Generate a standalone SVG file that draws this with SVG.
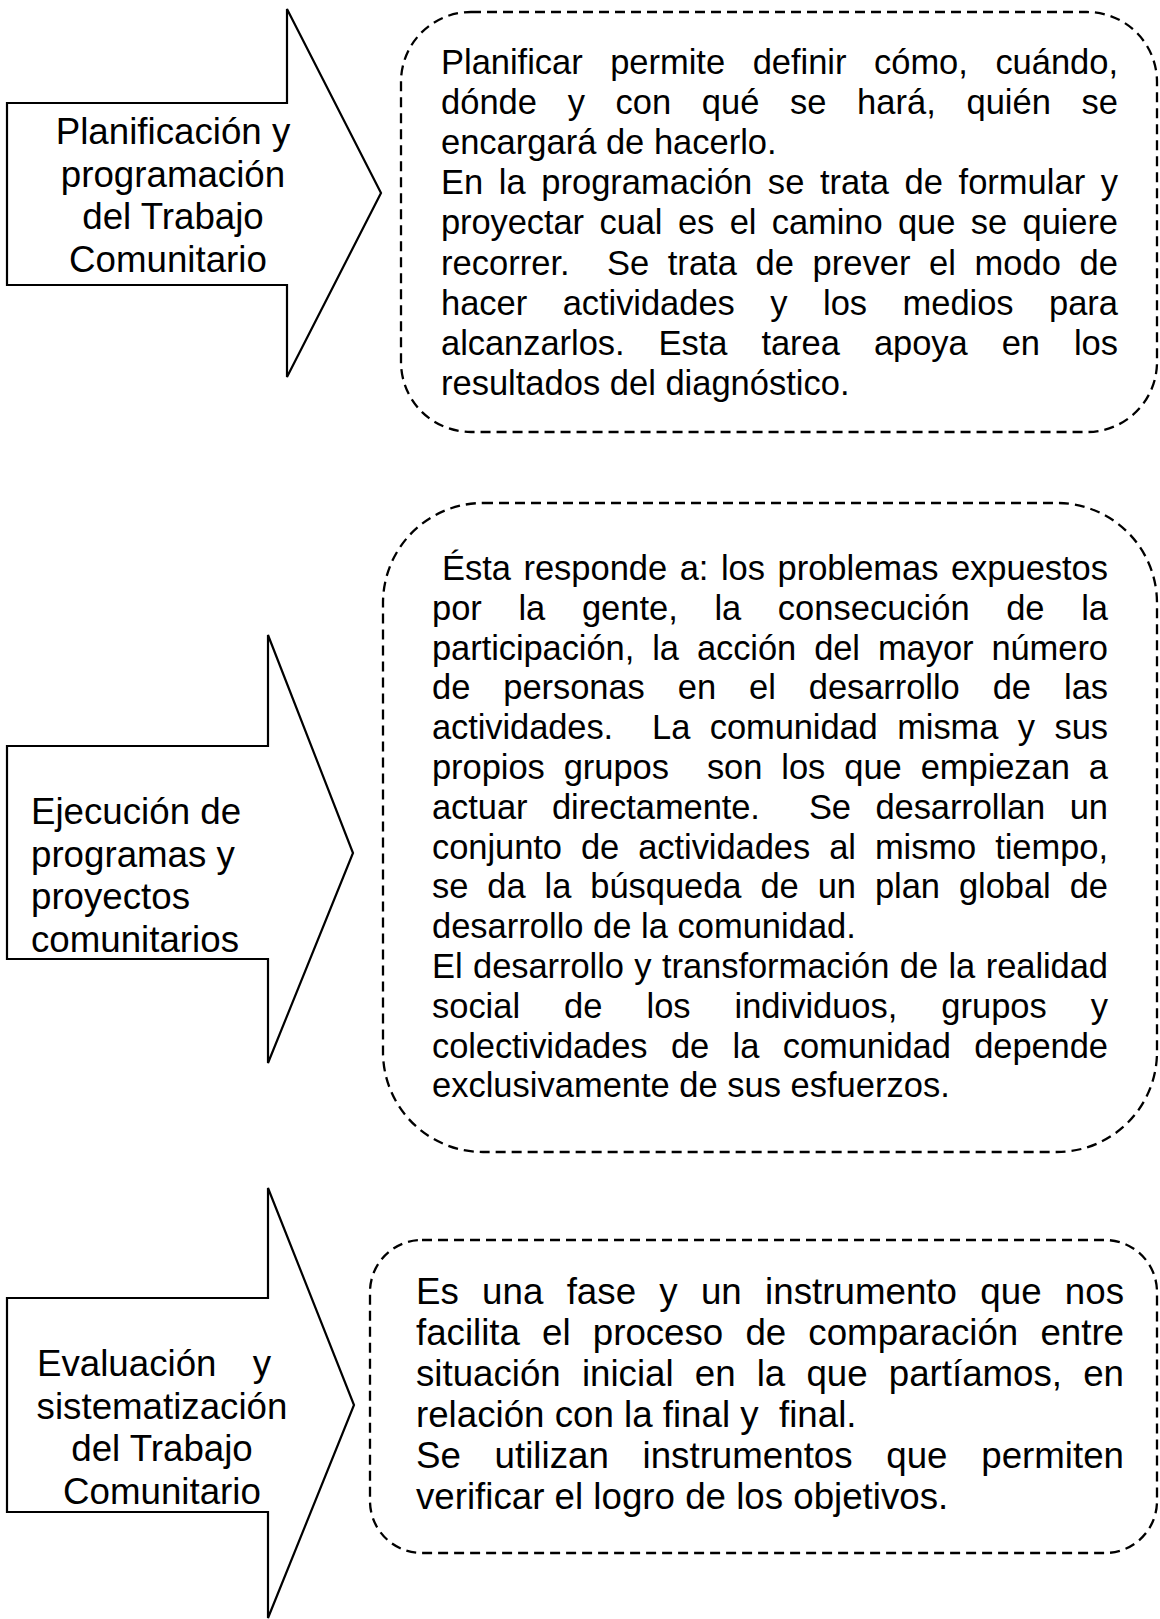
<svg xmlns="http://www.w3.org/2000/svg" width="1160" height="1619" viewBox="0 0 1160 1619">
<style>
.arrow{fill:#fff;stroke:#000;stroke-width:2.2;stroke-linejoin:miter}
.box{fill:#fff;stroke:#000;stroke-width:2.3;stroke-dasharray:10 6}
.lbl{font-family:"Liberation Sans",Arial,sans-serif;font-size:36.7px;fill:#000}
.mid{text-anchor:middle}
.body{font-family:"Liberation Sans",Arial,sans-serif;font-size:34.5px;fill:#000}
.big{font-size:36.7px}
</style>
<rect x="0" y="0" width="1160" height="1619" fill="#fff"/>
<g id="connectors"/>

<g id="arrow1">
<polygon class="arrow" points="7,103 287,103 287,9 381,193 287,377 287,285 7,285"/>
<text class="lbl mid" x="173" y="144">Planificación y</text>
<text class="lbl mid" x="173" y="186.5">programación</text>
<text class="lbl mid" x="173" y="229">del Trabajo</text>
<text class="lbl mid" x="168" y="271.5">Comunitario</text>
</g>

<g id="box1">
<rect class="box" x="401" y="12" width="756" height="420" rx="70" ry="70"/>
<text class="body" x="441" y="74" textLength="677" lengthAdjust="spacing" style="word-spacing:18px">Planificar permite definir cómo, cuándo,</text>
<text class="body" x="441" y="114" textLength="677" lengthAdjust="spacing" style="word-spacing:21px">dónde y con qué se hará, quién se</text>
<text class="body" x="441" y="154">encargará de hacerlo.</text>
<text class="body" x="441" y="194" textLength="677" lengthAdjust="spacing" style="word-spacing:6px">En la programación se trata de formular y</text>
<text class="body" x="441" y="234" textLength="677" lengthAdjust="spacing" style="word-spacing:6px">proyectar cual es el camino que se quiere</text>
<text class="body" x="441" y="275" textLength="677" lengthAdjust="spacing" style="word-spacing:9px" xml:space="preserve">recorrer.  Se trata de prever el modo de</text>
<text class="body" x="441" y="315" textLength="677" lengthAdjust="spacing" style="word-spacing:26px">hacer actividades y los medios para</text>
<text class="body" x="441" y="355" textLength="677" lengthAdjust="spacing" style="word-spacing:24.5px">alcanzarlos. Esta tarea apoya en los</text>
<text class="body" x="441" y="395">resultados del diagnóstico.</text>
</g>

<g id="arrow2">
<polygon class="arrow" points="7,746 268,746 268,635 353,853 268,1063 268,959 7,959"/>
<text class="lbl" x="31" y="824">Ejecución de</text>
<text class="lbl" x="31" y="866.5">programas y</text>
<text class="lbl" x="31" y="909">proyectos</text>
<text class="lbl" x="31" y="951.5">comunitarios</text>
</g>

<g id="box2">
<rect class="box" x="383" y="503" width="774" height="649" rx="100" ry="100"/>
<text class="body" x="442" y="580" textLength="666" lengthAdjust="spacing" style="word-spacing:3px">Ésta responde a: los problemas expuestos</text>
<text class="body" x="432" y="619.8" textLength="676" lengthAdjust="spacing" style="word-spacing:27px">por la gente, la consecución de la</text>
<text class="body" x="432" y="659.6" textLength="676" lengthAdjust="spacing" style="word-spacing:8.5px">participación, la acción del mayor número</text>
<text class="body" x="432" y="699.4" textLength="676" lengthAdjust="spacing" style="word-spacing:23.5px">de personas en el desarrollo de las</text>
<text class="body" x="432" y="739.2" textLength="676" lengthAdjust="spacing" style="word-spacing:10px" xml:space="preserve">actividades.  La comunidad misma y sus</text>
<text class="body" x="432" y="779" textLength="676" lengthAdjust="spacing" style="word-spacing:9.5px" xml:space="preserve">propios grupos  son los que empiezan a</text>
<text class="body" x="432" y="818.8" textLength="676" lengthAdjust="spacing" style="word-spacing:15px" xml:space="preserve">actuar directamente.  Se desarrollan un</text>
<text class="body" x="432" y="858.6" textLength="676" lengthAdjust="spacing" style="word-spacing:9.5px">conjunto de actividades al mismo tiempo,</text>
<text class="body" x="432" y="898.4" textLength="676" lengthAdjust="spacing" style="word-spacing:9.5px">se da la búsqueda de un plan global de</text>
<text class="body" x="432" y="938.2">desarrollo de la comunidad.</text>
<text class="body" x="432" y="978" textLength="676" lengthAdjust="spacing" style="word-spacing:1px">El desarrollo y transformación de la realidad</text>
<text class="body" x="432" y="1017.8" textLength="676" lengthAdjust="spacing" style="word-spacing:34.5px">social de los individuos, grupos y</text>
<text class="body" x="432" y="1057.6" textLength="676" lengthAdjust="spacing" style="word-spacing:14px">colectividades de la comunidad depende</text>
<text class="body" x="432" y="1097.4">exclusivamente de sus esfuerzos.</text>
</g>

<g id="arrow3">
<polygon class="arrow" points="7,1298 268,1298 268,1188 354,1405 268,1618 268,1512 7,1512"/>
<text class="lbl" x="37" y="1376" xml:space="preserve" style="word-spacing:8px">Evaluación  y</text>
<text class="lbl mid" x="162" y="1418.5">sistematización</text>
<text class="lbl mid" x="162" y="1461">del Trabajo</text>
<text class="lbl mid" x="162" y="1503.5">Comunitario</text>
</g>

<g id="box3">
<rect class="box" x="370" y="1240" width="787" height="313" rx="52" ry="52"/>
<text class="body big" x="416" y="1303.5" textLength="708" lengthAdjust="spacing" style="word-spacing:13px">Es una fase y un instrumento que nos</text>
<text class="body big" x="416" y="1344.5" textLength="708" lengthAdjust="spacing" style="word-spacing:12px">facilita el proceso de comparación entre</text>
<text class="body big" x="416" y="1385.5" textLength="708" lengthAdjust="spacing" style="word-spacing:11px">situación inicial en la que partíamos, en</text>
<text class="body big" x="416" y="1426.5" xml:space="preserve">relación con la final y  final.</text>
<text class="body big" x="416" y="1467.5" textLength="708" lengthAdjust="spacing" style="word-spacing:23.5px">Se utilizan instrumentos que permiten</text>
<text class="body big" x="416" y="1508.5">verificar el logro de los objetivos.</text>
</g>
</svg>
